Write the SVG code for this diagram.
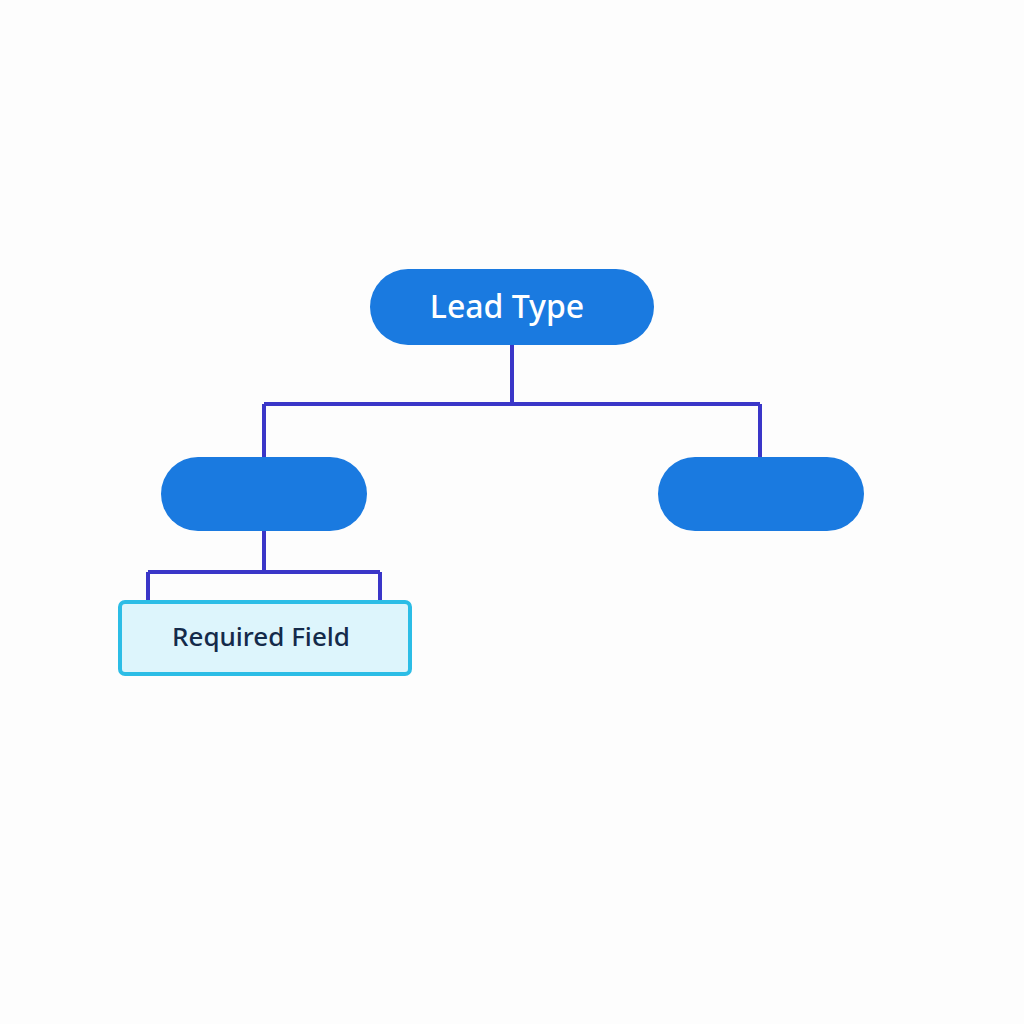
<svg xmlns="http://www.w3.org/2000/svg" width="1024" height="1024" viewBox="0 0 1024 1024">
<style>
.pill{fill:#1a7ae0}
.conn{fill:none;stroke:#3a36c8;stroke-width:4}
.t{font-family:"Noto Sans","Liberation Sans",sans-serif;font-weight:500}
</style>
<rect width="1024" height="1024" fill="#fdfdfd"/>
<g id="connectors">
<path class="conn" d="M512 344V404M264 404H760M264 404V460M760 404V460"/>
<path class="conn" d="M264 530V572M148 572H380M148 572V604M380 572V604"/>
</g>
<g id="lead-type"><rect class="pill" x="370" y="269" width="284" height="76" rx="38"/>
<text class="t" x="507" y="318" font-size="32" fill="#fff" text-anchor="middle">Lead Type</text></g>
<g id="left"><rect class="pill" x="161" y="457" width="206" height="74" rx="37"/></g>
<g id="right"><rect class="pill" x="658" y="457" width="206" height="74" rx="37"/></g>
<g id="required"><rect x="120" y="602" width="290" height="72" rx="5" fill="#ddf5fc" stroke="#2cbde6" stroke-width="4"/>
<text class="t" x="261" y="646" font-size="26" fill="#142a4a" text-anchor="middle">Required Field</text></g>
</svg>
